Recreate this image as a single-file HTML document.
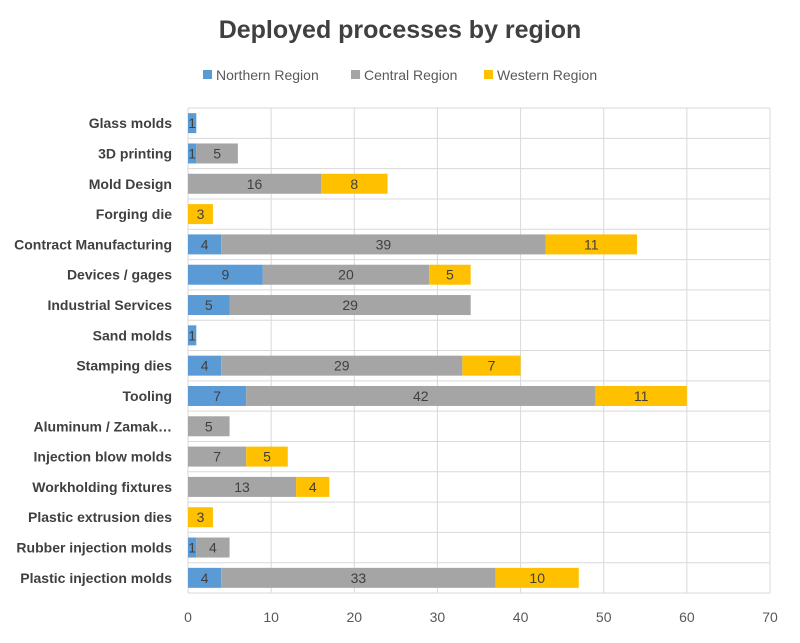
<!DOCTYPE html>
<html><head><meta charset="utf-8"><style>
body{margin:0;background:#fff;font-family:"Liberation Sans",sans-serif}
</style></head><body>
<svg id="chart" width="800" height="638" xmlns="http://www.w3.org/2000/svg">
<text x="400" y="38" text-anchor="middle" font-size="25" font-weight="bold" fill="#404040">Deployed processes by region</text>
<g id="legend"></g>
<g id="grid"></g><g id="bars"></g><g id="labels"></g>
</svg>
<script>
const categories=["Glass molds","3D printing","Mold Design","Forging die","Contract Manufacturing","Devices / gages","Industrial Services","Sand molds","Stamping dies","Tooling","Aluminum / Zamak…","Injection blow molds","Workholding fixtures","Plastic extrusion dies","Rubber injection molds","Plastic injection molds"];
const northern=[1,1,0,0,4,9,5,1,4,7,0,0,0,0,1,4];
const central=[0,5,16,0,39,20,29,0,29,42,5,7,13,0,4,33];
const western=[0,0,8,3,11,5,0,0,7,11,0,5,4,3,0,10];
const seriesNames=["Northern Region","Central Region","Western Region"];
const xTicks=[0,10,20,30,40,50,60,70];
const colors=["#5b9bd5","#a5a5a5","#ffc000"];
const NS="http://www.w3.org/2000/svg";
const X0=188,X1=770,T=108,B=593;
const xs=v=>X0+(v/70)*(X1-X0);
const band=(B-T)/categories.length;
const ys=i=>T+i*band;
function mk(tag,attrs,parent,text){const e=document.createElementNS(NS,tag);for(const k in attrs)e.setAttribute(k,attrs[k]);if(text!==undefined)e.textContent=text;document.getElementById(parent).appendChild(e);return e;}
// grid
xTicks.forEach(t=>{
 const l=mk("line",{x1:xs(t),x2:xs(t),y1:T,y2:B,stroke:"#d9d9d9","stroke-width":1},"grid");
 
 
 const tx=mk("text",{x:xs(t),y:622,"text-anchor":"middle","font-size":14,fill:"#595959"},"labels",t);
 
 
});
for(let i=0;i<=categories.length;i++){
 const l=mk("line",{x1:X0,x2:X1,y1:ys(i),y2:ys(i),stroke:"#d9d9d9","stroke-width":1},"grid");
 
 
}
const series=[northern,central,western];
categories.forEach((c,i)=>{
 const cy=ys(i)+band/2;
 const lab=mk("text",{x:172,y:cy+5,"text-anchor":"end","font-size":14,"font-weight":"bold",fill:"#404040"},"labels",c);
 
 
 let acc=0;
 series.forEach((s,k)=>{
  const v=s[i]; if(!v) return;
  const r=mk("rect",{x:xs(acc),y:cy-10,width:xs(acc+v)-xs(acc),height:20,fill:colors[k]},"bars");
  
  
  const t=mk("text",{x:(xs(acc)+xs(acc+v))/2,y:cy+5,"text-anchor":"middle","font-size":14,fill:"#404040"},"labels",v);
  
  
  acc+=v;
 });
});
// legend
const lx=[203,351,484];
seriesNames.forEach((n,k)=>{
 const r=mk("rect",{x:lx[k],y:70,width:9,height:9,fill:colors[k]},"legend");
 
 
 const t=mk("text",{x:lx[k]+13,y:80,"font-size":14,fill:"#595959"},"legend",n);
 
 
});
</script>
</body></html>
